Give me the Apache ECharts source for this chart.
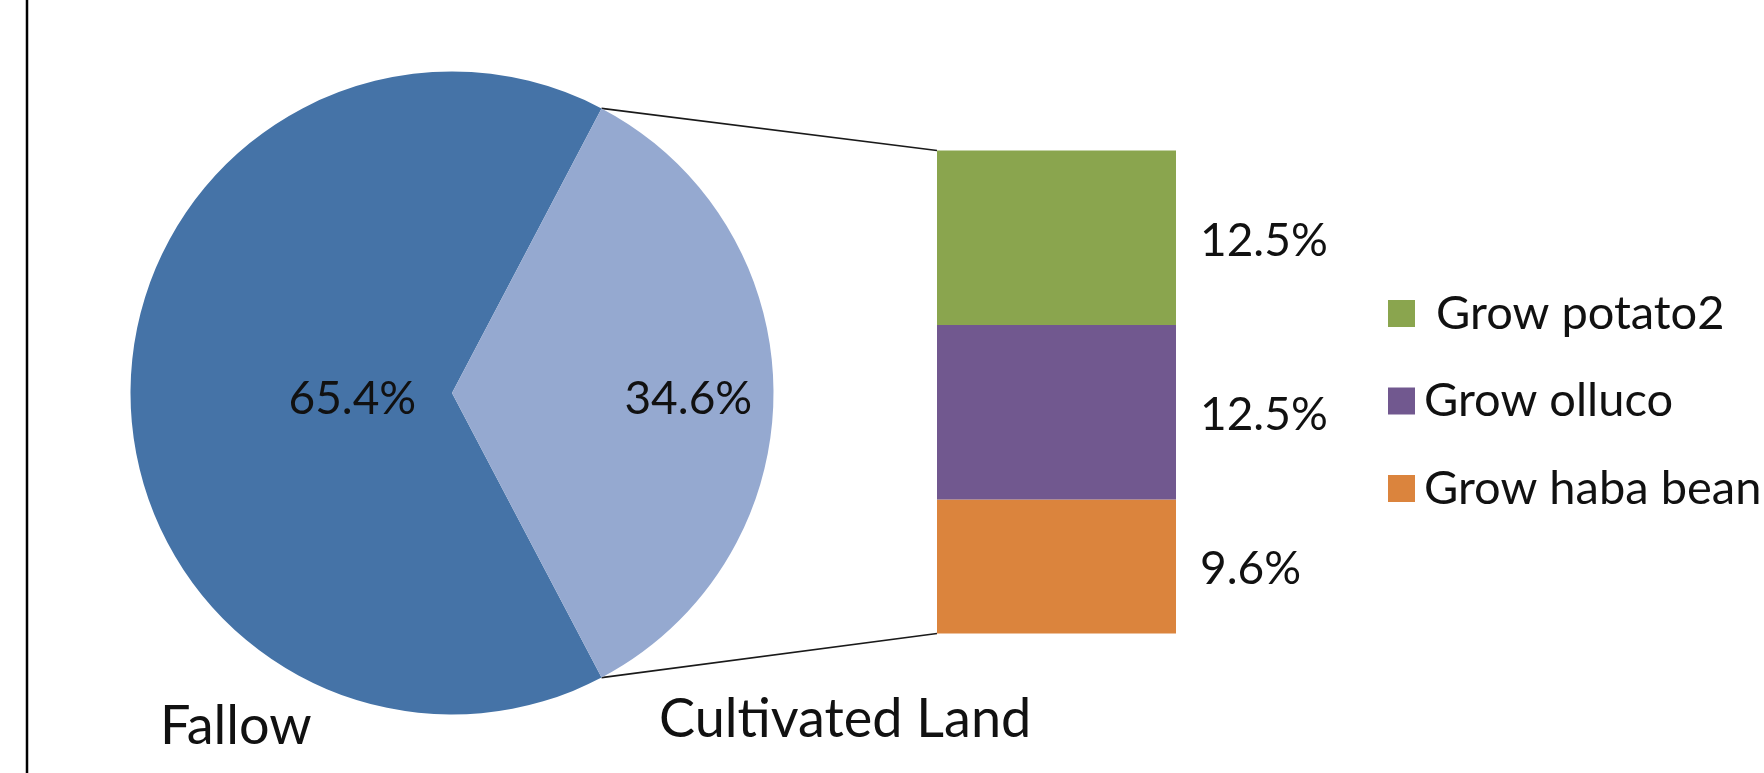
<!DOCTYPE html>
<html>
<head>
<meta charset="utf-8">
<title>Land use</title>
<script src="https://cdn.jsdelivr.net/npm/echarts@6/dist/echarts.min.js"></script>
<style>
  html, body { margin: 0; padding: 0; background: #ffffff; }
  #chart { width: 1764px; height: 773px; }
</style>
</head>
<body>
<div id="chart"></div>
<script>
// Main pie: share of land
const landNames = ['Fallow', 'Cultivated Land'];
const landValues = [65.4, 34.6];
const landColors = ['#4573a7', '#95a9d0'];

// Breakdown of the cultivated share (top to bottom in the stacked bar)
const cropNames = [' Grow potato2', 'Grow olluco', 'Grow haba bean'];
const cropValues = [12.5, 12.5, 9.6];
const cropColors = ['#8aa54e', '#71588f', '#db843d'];

// Layout
const pieCenter = [452, 393];
const pieRadius = 321.5;
const barBox = { left: 937, top: 150.5, width: 239, height: 483 };
const fontFamily = 'Lato, "Open Sans", sans-serif';
const textColor = '#111111';
// Where each slice's value label sits along its mid-angle, as a fraction of the radius
const pieLabelRadius = [0.31, 0.735];
const pieLabelDrop = 6;

const chart = echarts.init(document.getElementById('chart'), null, { renderer: 'canvas' });

const landTotal = landValues.reduce((a, b) => a + b, 0);
const cropTotal = cropValues.reduce((a, b) => a + b, 0);
// Centre the cultivated slice on the right-hand side of the pie
const halfCultDeg = landValues[1] / landTotal * 180;

const pctLabel = v => v.toFixed(1) + '%';

// Mid-angle (radians, screen coordinates) of each slice, drawn clockwise from startAngle
function sliceMidAngle(i) {
  let start = -halfCultDeg;
  for (let k = 0; k < i; k++) start -= landValues[k] / landTotal * 360;
  const mid = start - landValues[i] / landTotal * 180;
  return mid * Math.PI / 180;
}

// Bars stack bottom-up, so build series from the last crop to the first
const barSeries = [];
for (let i = cropNames.length - 1; i >= 0; i--) {
  barSeries.push({
    type: 'bar',
    name: cropNames[i],
    stack: 'crops',
    barWidth: '100%',
    data: [cropValues[i]],
    itemStyle: { color: cropColors[i] },
    label: {
      show: true,
      position: 'right',
      distance: 24,
      offset: [0, 3],
      formatter: p => pctLabel(p.value),
      fontFamily: fontFamily,
      fontSize: 46,
      color: textColor
    }
  });
}

const option = {
  animation: false,
  backgroundColor: '#ffffff',
  legend: {
    data: cropNames,
    orient: 'vertical',
    left: 1383,
    top: 285,
    itemWidth: 27,
    itemHeight: 27,
    itemGap: 40.5,
    icon: 'rect',
    selectedMode: false,
    textStyle: {
      fontFamily: fontFamily,
      fontSize: 47,
      color: textColor,
      padding: [0, 0, 0, 4]
    }
  },
  grid: {
    left: barBox.left,
    top: barBox.top,
    width: barBox.width,
    height: barBox.height,
    containLabel: false
  },
  xAxis: {
    type: 'category',
    data: ['Cultivated Land'],
    show: false
  },
  yAxis: {
    type: 'value',
    min: 0,
    max: cropTotal,
    show: false
  },
  series: [
    {
      type: 'pie',
      name: 'Land',
      center: pieCenter,
      radius: pieRadius,
      startAngle: -halfCultDeg,
      clockwise: true,
      data: landNames.map((n, i) => ({
        name: n,
        value: landValues[i],
        itemStyle: { color: landColors[i] }
      })),
      label: {
        show: true,
        position: 'inside',
        formatter: p => pctLabel(p.value),
        fontFamily: fontFamily,
        fontSize: 46,
        color: textColor
      },
      labelLayout: p => {
        const a = sliceMidAngle(p.dataIndex);
        const r = pieLabelRadius[p.dataIndex] * pieRadius;
        return {
          x: pieCenter[0] + r * Math.cos(a),
          y: pieCenter[1] - r * Math.sin(a) + pieLabelDrop
        };
      },
      labelLine: { show: false },
      emphasis: { disabled: true }
    }
  ].concat(barSeries)
};

chart.setOption(option);

// Connector lines from the cultivated slice edge to the bar corners,
// plus category names under the pie and the frame line on the left.
const halfRad = halfCultDeg * Math.PI / 180;
const edgeTop = [pieCenter[0] + pieRadius * Math.cos(halfRad), pieCenter[1] - pieRadius * Math.sin(halfRad)];
const edgeBottom = [pieCenter[0] + pieRadius * Math.cos(halfRad), pieCenter[1] + pieRadius * Math.sin(halfRad)];
const barTopY = chart.convertToPixel({ yAxisIndex: 0 }, cropTotal);
const barBottomY = chart.convertToPixel({ yAxisIndex: 0 }, 0);

const connectorStyle = { stroke: '#1a1a1a', lineWidth: 1.6 };

chart.setOption({
  graphic: [
    {
      type: 'line', id: 'frameLeft', silent: true,
      shape: { x1: 27, y1: 0, x2: 27, y2: 773 },
      style: { stroke: '#000000', lineWidth: 2.5 }
    },
    {
      type: 'line', id: 'connTop', silent: true,
      shape: { x1: edgeTop[0], y1: edgeTop[1], x2: barBox.left, y2: barTopY },
      style: connectorStyle
    },
    {
      type: 'line', id: 'connBottom', silent: true,
      shape: { x1: edgeBottom[0], y1: edgeBottom[1], x2: barBox.left, y2: barBottomY },
      style: connectorStyle
    },
    {
      type: 'text', id: 'nameFallow', silent: true,
      x: 160, y: 727,
      style: {
        text: landNames[0], fontFamily: fontFamily, fontSize: 54,
        fill: textColor, verticalAlign: 'middle', align: 'left'
      }
    },
    {
      type: 'text', id: 'nameCultivated', silent: true,
      x: 659, y: 720,
      style: {
        text: landNames[1], fontFamily: fontFamily, fontSize: 54,
        fill: textColor, verticalAlign: 'middle', align: 'left'
      }
    }
  ]
});
</script>
</body>
</html>
